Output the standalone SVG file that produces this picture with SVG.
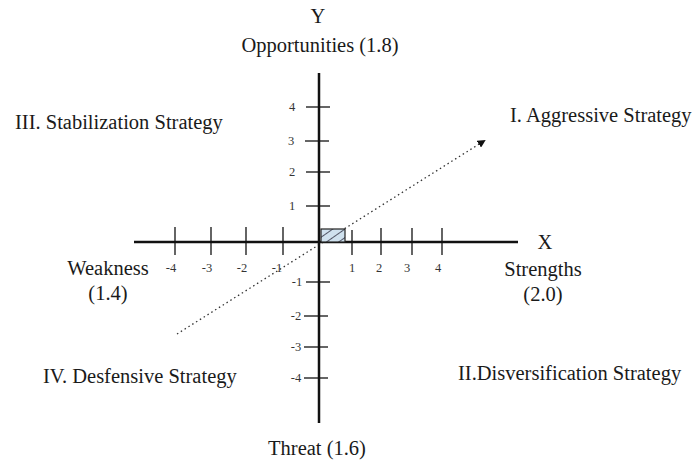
<svg xmlns="http://www.w3.org/2000/svg" width="698" height="464" viewBox="0 0 698 464">
<style>
text{font-family:"Liberation Serif","Times New Roman",serif;fill:#1a1a1a}
.lbl{font-size:20.5px}
.tk{font-size:12.5px;text-anchor:middle;fill:#333}
.axis{stroke:#111;stroke-width:2.5;fill:none}
.tick{stroke:#111;stroke-width:1.3;fill:none}
</style>
<defs>
<pattern id="hatch" width="7" height="7" patternUnits="userSpaceOnUse" patternTransform="rotate(55)">
<rect width="7" height="7" fill="#cfe1ee"/>
<line x1="0" y1="0" x2="0" y2="7" stroke="#334" stroke-width="1.6"/>
</pattern>
<marker id="arr" markerWidth="8" markerHeight="8" refX="6" refY="4" orient="auto" markerUnits="userSpaceOnUse">
<path d="M0,0 L8,4 L0,8 Z" fill="#111"/>
</marker>
</defs>
<g id="connectors">
<line x1="177" y1="334" x2="484" y2="141" stroke="#333" stroke-width="1.3" stroke-dasharray="1.5 3" marker-end="url(#arr)"/>
</g>
<g id="axes">
<line class="axis" x1="134" y1="242" x2="518" y2="242"/>
<line class="axis" x1="319" y1="73" x2="319" y2="423"/>
</g>
<g id="xticks">
<line class="tick" x1="175" y1="227" x2="175" y2="255"/>
<line class="tick" x1="211" y1="227" x2="211" y2="255"/>
<line class="tick" x1="246" y1="227" x2="246" y2="255"/>
<line class="tick" x1="283" y1="227" x2="283" y2="255"/>
<line class="tick" x1="352" y1="230" x2="352" y2="255"/>
<line class="tick" x1="381" y1="228" x2="381" y2="255"/>
<line class="tick" x1="412" y1="228" x2="412" y2="255"/>
<line class="tick" x1="442" y1="228" x2="442" y2="255"/>
<text class="tk" x="171" y="272">-4</text>
<text class="tk" x="207" y="272">-3</text>
<text class="tk" x="242" y="272">-2</text>
<text class="tk" x="277" y="272">-1</text>
<text class="tk" x="352" y="272">1</text>
<text class="tk" x="379" y="272">2</text>
<text class="tk" x="407" y="272">3</text>
<text class="tk" x="438" y="272">4</text>
</g>
<g id="yticks">
<line class="tick" x1="306" y1="107" x2="330" y2="107"/>
<line class="tick" x1="305" y1="141" x2="329" y2="141"/>
<line class="tick" x1="306" y1="172" x2="330" y2="172"/>
<line class="tick" x1="306" y1="206" x2="330" y2="206"/>
<line class="tick" x1="306" y1="282" x2="330" y2="282"/>
<line class="tick" x1="304" y1="316" x2="328" y2="316"/>
<line class="tick" x1="304" y1="347" x2="328" y2="347"/>
<line class="tick" x1="304" y1="378" x2="328" y2="378"/>
<text class="tk" x="292" y="111">4</text>
<text class="tk" x="291" y="145">3</text>
<text class="tk" x="292" y="176">2</text>
<text class="tk" x="292" y="210">1</text>
<text class="tk" x="297" y="286">-1</text>
<text class="tk" x="296" y="320">-2</text>
<text class="tk" x="296" y="351">-3</text>
<text class="tk" x="296" y="382">-4</text>
</g>
<g id="marker-box">
<rect x="321" y="229" width="24" height="13" fill="url(#hatch)" stroke="#222" stroke-width="1.2"/>
</g>
<g id="labels">
<text class="lbl" x="318" y="23" text-anchor="middle">Y</text>
<text class="lbl" x="320" y="52" text-anchor="middle">Opportunities (1.8)</text>
<text class="lbl" x="545" y="249" text-anchor="middle">X</text>
<text class="lbl" x="15" y="129">III. Stabilization Strategy</text>
<text class="lbl" x="510" y="122">I. Aggressive Strategy</text>
<text class="lbl" x="108" y="275" text-anchor="middle">Weakness</text>
<text class="lbl" x="108" y="300" text-anchor="middle">(1.4)</text>
<text class="lbl" x="543" y="276" text-anchor="middle">Strengths</text>
<text class="lbl" x="543" y="301" text-anchor="middle">(2.0)</text>
<text class="lbl" x="43" y="383">IV. Desfensive Strategy</text>
<text class="lbl" x="458" y="380">II.Disversification Strategy</text>
<text class="lbl" x="317" y="455" text-anchor="middle">Threat (1.6)</text>
</g>
</svg>
